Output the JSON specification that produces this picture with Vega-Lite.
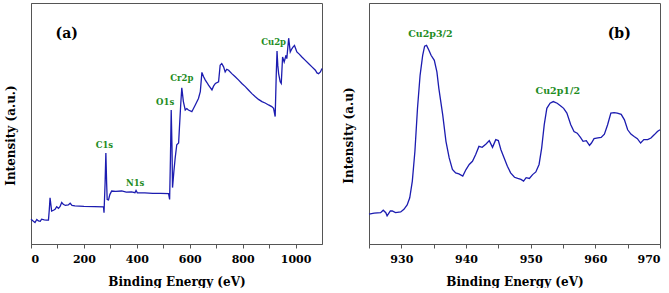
{
  "$schema": "https://vega.github.io/schema/vega-lite/v6.json",
  "padding": {"left": 3, "top": 2, "right": 0, "bottom": 0},
  "background": "white",
  "config": {
    "view": {"stroke": "#555", "strokeWidth": 1},
    "axis": {
      "labelFont": "DejaVu Serif", "titleFont": "DejaVu Serif",
      "labelFontWeight": "bold", "titleFontWeight": "bold",
      "labelFontSize": 11, "titleFontSize": 12,
      "labelColor": "black", "titleColor": "black", "labelOverlap": false,
      "domainColor": "#555", "tickColor": "#555", "grid": false
    }
  },
  "datasets": {
    "a": [
      {"e":0,"v":10.3},{"e":8,"v":9.5},{"e":15,"v":8.9},{"e":22,"v":10.2},{"e":28,"v":9.6},{"e":35,"v":9.4},{"e":40,"v":10.3},{"e":50,"v":10.0},{"e":59,"v":9.9},{"e":66,"v":9.9},{"e":69,"v":14.0},{"e":72,"v":19.2},{"e":75,"v":16.5},{"e":78,"v":13.7},{"e":85,"v":14.0},{"e":91,"v":14.4},{"e":97,"v":15.5},{"e":104,"v":14.8},{"e":110,"v":15.6},{"e":116,"v":17.2},{"e":122,"v":16.5},{"e":130,"v":16.0},{"e":141,"v":16.2},{"e":148,"v":16.9},{"e":155,"v":16.0},{"e":166,"v":15.8},{"e":200,"v":15.6},{"e":240,"v":15.5},{"e":274,"v":15.4},{"e":276,"v":13.0},{"e":280,"v":25.0},{"e":283,"v":37.8},{"e":286,"v":25.0},{"e":288,"v":18.5},{"e":293,"v":18.3},{"e":298,"v":20.5},{"e":305,"v":22.0},{"e":320,"v":21.8},{"e":343,"v":22.0},{"e":360,"v":21.5},{"e":380,"v":21.6},{"e":393,"v":21.3},{"e":397,"v":22.2},{"e":402,"v":21.2},{"e":430,"v":21.2},{"e":460,"v":21.0},{"e":490,"v":21.0},{"e":520,"v":20.9},{"e":524,"v":18.5},{"e":527,"v":35.0},{"e":530,"v":55.6},{"e":533,"v":40.0},{"e":535,"v":23.4},{"e":540,"v":30.0},{"e":545,"v":35.7},{"e":551,"v":41.2},{"e":558,"v":41.9},{"e":561,"v":48.0},{"e":566,"v":58.0},{"e":570,"v":64.8},{"e":576,"v":59.1},{"e":583,"v":55.6},{"e":589,"v":56.2},{"e":595,"v":55.6},{"e":608,"v":54.9},{"e":621,"v":57.7},{"e":633,"v":60.4},{"e":640,"v":63.2},{"e":646,"v":71.2},{"e":652,"v":69.5},{"e":659,"v":68.0},{"e":665,"v":67.0},{"e":671,"v":65.9},{"e":684,"v":63.9},{"e":690,"v":65.5},{"e":697,"v":66.6},{"e":709,"v":67.3},{"e":715,"v":74.2},{"e":721,"v":74.9},{"e":728,"v":73.5},{"e":734,"v":71.4},{"e":740,"v":72.5},{"e":747,"v":72.1},{"e":759,"v":70.7},{"e":772,"v":69.4},{"e":785,"v":68.0},{"e":797,"v":66.6},{"e":810,"v":65.3},{"e":822,"v":63.9},{"e":835,"v":62.4},{"e":848,"v":61.1},{"e":860,"v":60.0},{"e":873,"v":59.1},{"e":885,"v":58.5},{"e":898,"v":57.7},{"e":910,"v":57.0},{"e":917,"v":56.3},{"e":923,"v":52.9},{"e":927,"v":70.0},{"e":930,"v":80.1},{"e":933,"v":74.0},{"e":936,"v":70.7},{"e":942,"v":67.3},{"e":946,"v":66.6},{"e":951,"v":77.6},{"e":957,"v":75.5},{"e":964,"v":78.3},{"e":967,"v":76.9},{"e":974,"v":85.4},{"e":980,"v":79.7},{"e":986,"v":81.0},{"e":991,"v":81.8},{"e":996,"v":82.4},{"e":1005,"v":79.7},{"e":1014,"v":78.8},{"e":1024,"v":77.6},{"e":1036,"v":76.3},{"e":1049,"v":74.9},{"e":1062,"v":73.5},{"e":1075,"v":72.1},{"e":1081,"v":71.0},{"e":1087,"v":70.7},{"e":1094,"v":71.4},{"e":1100,"v":72.8}
    ],
    "b": [
      {"e":925.0,"v":12.4},{"e":925.8,"v":12.8},{"e":926.8,"v":13.0},{"e":927.2,"v":14.0},{"e":927.6,"v":13.0},{"e":927.8,"v":11.7},{"e":928.3,"v":13.7},{"e":928.6,"v":13.7},{"e":929.1,"v":13.0},{"e":929.9,"v":13.3},{"e":930.4,"v":14.4},{"e":930.9,"v":16.2},{"e":931.3,"v":19.2},{"e":931.7,"v":26.1},{"e":932.1,"v":38.5},{"e":932.5,"v":56.3},{"e":932.9,"v":70.0},{"e":933.3,"v":78.3},{"e":933.6,"v":82.1},{"e":933.9,"v":82.4},{"e":934.3,"v":80.2},{"e":934.6,"v":78.3},{"e":935.1,"v":76.2},{"e":935.5,"v":71.4},{"e":935.8,"v":64.6},{"e":936.4,"v":53.6},{"e":936.9,"v":42.6},{"e":937.4,"v":35.7},{"e":937.9,"v":30.9},{"e":938.4,"v":29.5},{"e":938.9,"v":29.1},{"e":939.5,"v":28.2},{"e":940.0,"v":30.9},{"e":940.5,"v":33.0},{"e":941.0,"v":34.3},{"e":941.5,"v":37.1},{"e":942.0,"v":40.5},{"e":942.5,"v":40.1},{"e":943.1,"v":41.5},{"e":943.6,"v":42.9},{"e":944.1,"v":40.1},{"e":944.6,"v":43.3},{"e":945.0,"v":42.9},{"e":945.4,"v":39.1},{"e":945.9,"v":35.7},{"e":946.4,"v":32.3},{"e":946.9,"v":29.5},{"e":947.5,"v":27.7},{"e":948.0,"v":27.2},{"e":948.5,"v":26.8},{"e":948.9,"v":26.1},{"e":949.3,"v":27.5},{"e":949.8,"v":27.2},{"e":950.3,"v":28.8},{"e":950.8,"v":29.9},{"e":951.3,"v":33.0},{"e":951.7,"v":39.8},{"e":952.1,"v":49.5},{"e":952.5,"v":56.3},{"e":953.0,"v":58.4},{"e":953.5,"v":59.1},{"e":954.1,"v":58.4},{"e":954.6,"v":57.4},{"e":955.1,"v":56.3},{"e":955.6,"v":54.3},{"e":956.2,"v":49.5},{"e":956.7,"v":46.7},{"e":957.2,"v":46.0},{"e":957.7,"v":44.2},{"e":958.1,"v":42.6},{"e":958.6,"v":42.9},{"e":959.1,"v":40.9},{"e":959.4,"v":41.9},{"e":959.8,"v":43.7},{"e":960.4,"v":44.0},{"e":960.9,"v":44.2},{"e":961.4,"v":45.6},{"e":961.9,"v":49.5},{"e":962.4,"v":54.3},{"e":962.9,"v":54.5},{"e":963.4,"v":54.3},{"e":964.0,"v":53.8},{"e":964.5,"v":51.5},{"e":965.0,"v":47.4},{"e":965.5,"v":45.6},{"e":966.0,"v":44.6},{"e":966.5,"v":43.7},{"e":967.0,"v":41.9},{"e":967.5,"v":43.3},{"e":968.1,"v":43.3},{"e":968.6,"v":44.0},{"e":969.1,"v":45.3},{"e":969.6,"v":46.7},{"e":970.0,"v":47.4}
    ],
    "labA": [
      {"e":917,"v":83.8,"t":"Cu2p","k":"g"},{"e":570,"v":68.7,"t":"Cr2p","k":"g"},{"e":507,"v":59.0,"t":"O1s","k":"g"},{"e":277.5,"v":41.2,"t":"C1s","k":"g"},{"e":393.6,"v":25.4,"t":"N1s","k":"g"},{"e":135,"v":87.2,"t":"(a)","k":"k"}
    ],
    "labB": [
      {"e":934.5,"v":87.2,"t":"Cu2p3/2","k":"g"},{"e":954.2,"v":63.5,"t":"Cu2p1/2","k":"g"},{"e":963.7,"v":87.2,"t":"(b)","k":"k"}
    ]
  },
  "hconcat": [
    {
      "width": 291, "height": 241,
      "layer": [
        {
          "data": {"name": "a"},
          "mark": {"type": "line", "color": "#1c1cb0", "strokeWidth": 1.3},
          "encoding": {
            "x": {"field": "e", "type": "quantitative", "scale": {"domain": [0, 1100], "nice": false},
              "axis": {"title": "Binding Energy (eV)", "values": [0,100,200,300,400,500,600,700,800,900,1000], "tickCount": 30, "format": "d",
                "labelExpr": "datum.value % 200 === 0 ? datum.label : ''", "tickSize": 4, "labelPadding": 5, "titlePadding": 12}},
            "y": {"field": "v", "type": "quantitative", "scale": {"domain": [0, 100], "nice": false},
              "axis": {"title": "Intensity (a.u.)", "labels": false, "ticks": false, "titlePadding": 14, "titleY": 132}}
          }
        },
        {
          "data": {"name": "labA"},
          "transform": [{"filter": "datum.k === 'g'"}],
          "mark": {"type": "text", "fontWeight": "bold", "fontSize": 8.5, "color": "#1e8c1e", "align": "center", "baseline": "middle", "font": "DejaVu Serif"},
          "encoding": {
            "x": {"field": "e", "type": "quantitative"},
            "y": {"field": "v", "type": "quantitative"},
            "text": {"field": "t"}
          }
        },
        {
          "data": {"name": "labA"},
          "transform": [{"filter": "datum.k === 'k'"}],
          "mark": {"type": "text", "fontWeight": "bold", "fontSize": 14, "color": "black", "align": "center", "baseline": "middle", "font": "DejaVu Serif"},
          "encoding": {
            "x": {"field": "e", "type": "quantitative"},
            "y": {"field": "v", "type": "quantitative"},
            "text": {"field": "t"}
          }
        }
      ]
    },
    {
      "width": 291, "height": 241,
      "layer": [
        {
          "data": {"name": "b"},
          "mark": {"type": "line", "color": "#1c1cb0", "strokeWidth": 1.3},
          "encoding": {
            "x": {"field": "e", "type": "quantitative", "scale": {"domain": [925, 970], "nice": false, "zero": false},
              "axis": {"title": "Binding Energy (eV)", "values": [925,930,935,940,945,950,955,960,965,970], "tickCount": 30, "format": "d", "labelOverlap": false,
                "labelExpr": "datum.value % 10 === 0 ? datum.label : ''", "tickSize": 4, "labelPadding": 5, "titlePadding": 12}},
            "y": {"field": "v", "type": "quantitative", "scale": {"domain": [0, 100], "nice": false},
              "axis": {"title": "Intensity (a.u)", "labels": false, "ticks": false, "titlePadding": 14, "titleY": 132}}
          }
        },
        {
          "data": {"name": "labB"},
          "transform": [{"filter": "datum.k === 'g'"}],
          "mark": {"type": "text", "fontWeight": "bold", "fontSize": 9.5, "color": "#1e8c1e", "align": "center", "baseline": "middle", "font": "DejaVu Serif"},
          "encoding": {
            "x": {"field": "e", "type": "quantitative"},
            "y": {"field": "v", "type": "quantitative"},
            "text": {"field": "t"}
          }
        },
        {
          "data": {"name": "labB"},
          "transform": [{"filter": "datum.k === 'k'"}],
          "mark": {"type": "text", "fontWeight": "bold", "fontSize": 14, "color": "black", "align": "center", "baseline": "middle", "font": "DejaVu Serif"},
          "encoding": {
            "x": {"field": "e", "type": "quantitative"},
            "y": {"field": "v", "type": "quantitative"},
            "text": {"field": "t"}
          }
        }
      ]
    }
  ],
  "spacing": 15
}
